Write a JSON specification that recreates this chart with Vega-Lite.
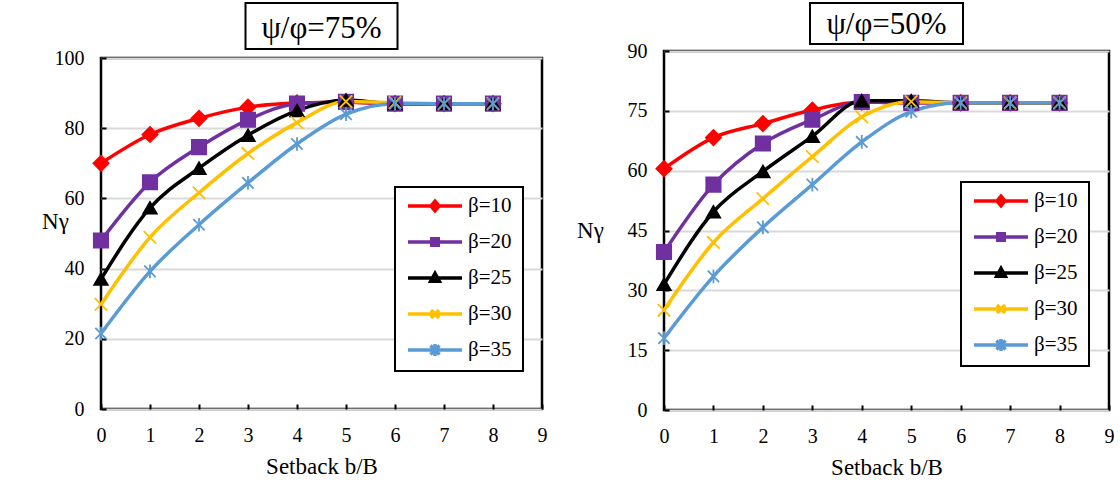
{
  "$schema": "https://vega.github.io/schema/vega-lite/v6.json",
  "padding": {"left": 40, "top": 2, "right": 2, "bottom": 2},
  "background": "white",
  "datasets": {
    "d75": [
      {"x": 0, "ny": 70, "s": "β=10"}, {"x": 1, "ny": 78.2, "s": "β=10"}, {"x": 2, "ny": 82.8, "s": "β=10"}, {"x": 3, "ny": 86, "s": "β=10"}, {"x": 4, "ny": 87.2, "s": "β=10"}, {"x": 5, "ny": 87.4, "s": "β=10"}, {"x": 6, "ny": 87, "s": "β=10"}, {"x": 7, "ny": 87, "s": "β=10"}, {"x": 8, "ny": 87, "s": "β=10"},
      {"x": 0, "ny": 48, "s": "β=20"}, {"x": 1, "ny": 64.6, "s": "β=20"}, {"x": 2, "ny": 74.6, "s": "β=20"}, {"x": 3, "ny": 82.4, "s": "β=20"}, {"x": 4, "ny": 87, "s": "β=20"}, {"x": 5, "ny": 87.5, "s": "β=20"}, {"x": 6, "ny": 87, "s": "β=20"}, {"x": 7, "ny": 87, "s": "β=20"}, {"x": 8, "ny": 87, "s": "β=20"},
      {"x": 0, "ny": 37, "s": "β=25"}, {"x": 1, "ny": 57.3, "s": "β=25"}, {"x": 2, "ny": 68.6, "s": "β=25"}, {"x": 3, "ny": 78, "s": "β=25"}, {"x": 4, "ny": 85, "s": "β=25"}, {"x": 5, "ny": 88, "s": "β=25"}, {"x": 6, "ny": 87, "s": "β=25"}, {"x": 7, "ny": 87, "s": "β=25"}, {"x": 8, "ny": 87, "s": "β=25"},
      {"x": 0, "ny": 29.8, "s": "β=30"}, {"x": 1, "ny": 48.9, "s": "β=30"}, {"x": 2, "ny": 61.6, "s": "β=30"}, {"x": 3, "ny": 72.8, "s": "β=30"}, {"x": 4, "ny": 81.6, "s": "β=30"}, {"x": 5, "ny": 87.6, "s": "β=30"}, {"x": 6, "ny": 87.3, "s": "β=30"}, {"x": 7, "ny": 87, "s": "β=30"}, {"x": 8, "ny": 87, "s": "β=30"},
      {"x": 0, "ny": 21.5, "s": "β=35"}, {"x": 1, "ny": 39.2, "s": "β=35"}, {"x": 2, "ny": 52.5, "s": "β=35"}, {"x": 3, "ny": 64.4, "s": "β=35"}, {"x": 4, "ny": 75.5, "s": "β=35"}, {"x": 5, "ny": 84, "s": "β=35"}, {"x": 6, "ny": 87, "s": "β=35"}, {"x": 7, "ny": 87, "s": "β=35"}, {"x": 8, "ny": 87, "s": "β=35"}
    ],
    "d50": [
      {"x": 0, "ny": 60.5, "s": "β=10"}, {"x": 1, "ny": 68.3, "s": "β=10"}, {"x": 2, "ny": 71.8, "s": "β=10"}, {"x": 3, "ny": 75.2, "s": "β=10"}, {"x": 4, "ny": 77.2, "s": "β=10"}, {"x": 5, "ny": 77, "s": "β=10"}, {"x": 6, "ny": 77, "s": "β=10"}, {"x": 7, "ny": 77, "s": "β=10"}, {"x": 8, "ny": 77, "s": "β=10"},
      {"x": 0, "ny": 39.6, "s": "β=20"}, {"x": 1, "ny": 56.5, "s": "β=20"}, {"x": 2, "ny": 66.8, "s": "β=20"}, {"x": 3, "ny": 72.8, "s": "β=20"}, {"x": 4, "ny": 77.2, "s": "β=20"}, {"x": 5, "ny": 77, "s": "β=20"}, {"x": 6, "ny": 77, "s": "β=20"}, {"x": 7, "ny": 77, "s": "β=20"}, {"x": 8, "ny": 77, "s": "β=20"},
      {"x": 0, "ny": 31.5, "s": "β=25"}, {"x": 1, "ny": 49.7, "s": "β=25"}, {"x": 2, "ny": 59.8, "s": "β=25"}, {"x": 3, "ny": 68.6, "s": "β=25"}, {"x": 4, "ny": 77.5, "s": "β=25"}, {"x": 5, "ny": 77.5, "s": "β=25"}, {"x": 6, "ny": 77, "s": "β=25"}, {"x": 7, "ny": 77, "s": "β=25"}, {"x": 8, "ny": 77, "s": "β=25"},
      {"x": 0, "ny": 25, "s": "β=30"}, {"x": 1, "ny": 42, "s": "β=30"}, {"x": 2, "ny": 53, "s": "β=30"}, {"x": 3, "ny": 63.5, "s": "β=30"}, {"x": 4, "ny": 73.5, "s": "β=30"}, {"x": 5, "ny": 77.3, "s": "β=30"}, {"x": 6, "ny": 77, "s": "β=30"}, {"x": 7, "ny": 77, "s": "β=30"}, {"x": 8, "ny": 77, "s": "β=30"},
      {"x": 0, "ny": 18, "s": "β=35"}, {"x": 1, "ny": 33.5, "s": "β=35"}, {"x": 2, "ny": 45.8, "s": "β=35"}, {"x": 3, "ny": 56.5, "s": "β=35"}, {"x": 4, "ny": 67.2, "s": "β=35"}, {"x": 5, "ny": 74.8, "s": "β=35"}, {"x": 6, "ny": 77, "s": "β=35"}, {"x": 7, "ny": 77, "s": "β=35"}, {"x": 8, "ny": 77, "s": "β=35"}
    ]
  },
  "config": {
    "font": "Liberation Serif, Times New Roman, serif",
    "view": {"stroke": "black", "strokeWidth": 2.5},
    "text": {"font": "Liberation Serif, Times New Roman, serif"},
    "legend": {"labelFont": "Liberation Serif, Times New Roman, serif"},
    "axis": {
      "domain": false,
      "labelFont": "Liberation Serif, Times New Roman, serif", "labelFontSize": 20, "labelColor": "black",
      "tickColor": "black", "tickWidth": 2, "tickSize": -5,
      "titleFont": "Liberation Serif, Times New Roman, serif", "titleFontSize": 23, "titleFontWeight": "normal", "titleColor": "black"
    },
    "axisX": {"labelPadding": 21, "labelFlush": false, "titleBaseline": "middle", "titleY": 57, "grid": false},
    "axisY": {"labelPadding": 22, "grid": true, "gridColor": "#d9d9d9", "gridWidth": 2, "titleAngle": 0, "titleAlign": "center", "titleBaseline": "middle", "titleFontSize": 23}
  },
  "spacing": 26,
  "resolve": {"legend": {"color": "independent"}},
  "hconcat": [
    {
      "bounds": "flush",
      "center": true,
      "spacing": 9,
      "resolve": {"legend": {"color": "independent"}},
      "vconcat": [
        {
          "width": 152, "height": 46,
          "view": {"stroke": "black", "strokeWidth": 2},
          "data": {"values": [{"label": "ψ/φ=75%"}]},
          "mark": {"type": "text", "font": "Liberation Serif, Times New Roman, serif", "fontSize": 31, "color": "black", "dy": 3},
          "encoding": {"text": {"field": "label", "type": "nominal"}}
        },
        {
          "width": 441, "height": 351,
          "view": {"stroke": "black", "strokeWidth": 2.5},
          "data": {"name": "d75"},
          "encoding": {
            "x": {"field": "x", "type": "quantitative", "scale": {"domain": [0, 9], "nice": false}, "axis": {"values": [0,1,2,3,4,5,6,7,8,9], "title": "Setback b/B", "grid": false}},
            "y": {"field": "ny", "type": "quantitative", "scale": {"domain": [0, 100], "nice": false}, "axis": {"values": [0,20,40,60,80,100], "title": "Nγ", "titleX": -46, "titleY": 163}}
          },
          "layer": [
            {
              "mark": {"type": "line", "interpolate": "monotone", "strokeWidth": 3.5},
              "encoding": {
                "color": {
                  "field": "s", "type": "nominal",
                  "scale": {"domain": ["β=10","β=20","β=25","β=30","β=35"], "range": ["#ff0000","#7030a0","#000000","#ffc000","#5b9bd5"]},
                  "legend": {
                    "title": null, "orient": "none", "legendX": 294, "legendY": 129,
                    "fillColor": "white", "strokeColor": "black", "padding": 11, "cornerRadius": 0,
                    "rowPadding": 15, "clipHeight": 16, "labelOffset": 4,
                    "labelFont": "Liberation Serif, Times New Roman, serif", "labelFontSize": 21, "labelColor": "black", "labelLimit": 200,
                    "symbolSize": 2916, "symbolStrokeWidth": 3.5,
                    "encode": {
                      "legend": {"update": {"strokeWidth": {"value": 2}}},
                      "symbols": {
                        "update": {
                          "shape": {"signal": "['M-1,0L1,0M0,-0.18L0.15,0L0,0.18L-0.15,0Z','M-1,0L1,0M-0.12,-0.12L0.12,-0.12L0.12,0.12L-0.12,0.12Z','M-1,0L1,0M0,-0.17L0.16,0.12L-0.16,0.12Z','M-1,0L1,0M-0.15,-0.15L0.15,0.15M-0.15,0.15L0.15,-0.15','M-1,0L1,0M-0.17,-0.17L0.17,0.17M-0.17,0.17L0.17,-0.17M0,-0.22L0,0.22'][indexof(['β=10','β=20','β=25','β=30','β=35'], datum.value)]"},
                          "fill": {"signal": "['#ff0000','#7030a0','#000000','#ffc000','#5b9bd5'][indexof(['β=10','β=20','β=25','β=30','β=35'], datum.value)]"},
                          "stroke": {"signal": "['#ff0000','#7030a0','#000000','#ffc000','#5b9bd5'][indexof(['β=10','β=20','β=25','β=30','β=35'], datum.value)]"},
                          "size": {"value": 2916},
                          "strokeWidth": {"value": 3.5},
                          "opacity": {"value": 1}
                        }
                      }
                    }
                  }
                }
              }
            },
            {
              "mark": {"type": "point", "filled": true, "opacity": 1, "strokeWidth": 1.8},
              "encoding": {
                "color": {"field": "s", "type": "nominal", "scale": {"domain": ["β=10","β=20","β=25","β=30","β=35"], "range": ["#ff0000","#7030a0","#000000","#ffc000","#5b9bd5"]}},
                "stroke": {"field": "s", "type": "nominal", "scale": {"domain": ["β=10","β=20","β=25","β=30","β=35"], "range": ["#ff0000","#7030a0","#000000","#ffc000","#5b9bd5"]}, "legend": null},
                "shape": {"field": "s", "type": "nominal", "scale": {"domain": ["β=10","β=20","β=25","β=30","β=35"], "range": ["diamond","square","triangle-up","M-1,-1L1,1M-1,1L1,-1","M-1,-1L1,1M-1,1L1,-1M0,-1.2L0,1.2"]}, "legend": null},
                "size": {"field": "s", "type": "nominal", "scale": {"domain": ["β=10","β=20","β=25","β=30","β=35"], "range": [230, 130, 180, 220, 220]}, "legend": null}
              }
            }
          ]
        }
      ]
    },
    {
      "bounds": "flush",
      "center": true,
      "spacing": 7,
      "resolve": {"legend": {"color": "independent"}},
      "vconcat": [
        {
          "width": 153, "height": 41,
          "view": {"stroke": "black", "strokeWidth": 2},
          "data": {"values": [{"label": "ψ/φ=50%"}]},
          "mark": {"type": "text", "font": "Liberation Serif, Times New Roman, serif", "fontSize": 31, "color": "black", "dy": 1},
          "encoding": {"text": {"field": "label", "type": "nominal"}}
        },
        {
          "width": 445, "height": 359,
          "view": {"stroke": "black", "strokeWidth": 2.5},
          "data": {"name": "d50"},
          "encoding": {
            "x": {"field": "x", "type": "quantitative", "scale": {"domain": [0, 9], "nice": false}, "axis": {"values": [0,1,2,3,4,5,6,7,8,9], "title": "Setback b/B", "grid": false}},
            "y": {"field": "ny", "type": "quantitative", "scale": {"domain": [0, 90], "nice": false}, "axis": {"values": [0,15,30,45,60,75,90], "title": "Nγ", "titleX": -74, "titleY": 179}}
          },
          "layer": [
            {
              "mark": {"type": "line", "interpolate": "monotone", "strokeWidth": 3.5},
              "encoding": {
                "color": {
                  "field": "s", "type": "nominal",
                  "scale": {"domain": ["β=10","β=20","β=25","β=30","β=35"], "range": ["#ff0000","#7030a0","#000000","#ffc000","#5b9bd5"]},
                  "legend": {
                    "title": null, "orient": "none", "legendX": 297, "legendY": 131,
                    "fillColor": "white", "strokeColor": "black", "padding": 11, "cornerRadius": 0,
                    "rowPadding": 15, "clipHeight": 16, "labelOffset": 4,
                    "labelFont": "Liberation Serif, Times New Roman, serif", "labelFontSize": 21, "labelColor": "black", "labelLimit": 200,
                    "symbolSize": 2916, "symbolStrokeWidth": 3.5,
                    "encode": {
                      "legend": {"update": {"strokeWidth": {"value": 2}}},
                      "symbols": {
                        "update": {
                          "shape": {"signal": "['M-1,0L1,0M0,-0.18L0.15,0L0,0.18L-0.15,0Z','M-1,0L1,0M-0.12,-0.12L0.12,-0.12L0.12,0.12L-0.12,0.12Z','M-1,0L1,0M0,-0.17L0.16,0.12L-0.16,0.12Z','M-1,0L1,0M-0.15,-0.15L0.15,0.15M-0.15,0.15L0.15,-0.15','M-1,0L1,0M-0.17,-0.17L0.17,0.17M-0.17,0.17L0.17,-0.17M0,-0.22L0,0.22'][indexof(['β=10','β=20','β=25','β=30','β=35'], datum.value)]"},
                          "fill": {"signal": "['#ff0000','#7030a0','#000000','#ffc000','#5b9bd5'][indexof(['β=10','β=20','β=25','β=30','β=35'], datum.value)]"},
                          "stroke": {"signal": "['#ff0000','#7030a0','#000000','#ffc000','#5b9bd5'][indexof(['β=10','β=20','β=25','β=30','β=35'], datum.value)]"},
                          "size": {"value": 2916},
                          "strokeWidth": {"value": 3.5},
                          "opacity": {"value": 1}
                        }
                      }
                    }
                  }
                }
              }
            },
            {
              "mark": {"type": "point", "filled": true, "opacity": 1, "strokeWidth": 1.8},
              "encoding": {
                "color": {"field": "s", "type": "nominal", "scale": {"domain": ["β=10","β=20","β=25","β=30","β=35"], "range": ["#ff0000","#7030a0","#000000","#ffc000","#5b9bd5"]}},
                "stroke": {"field": "s", "type": "nominal", "scale": {"domain": ["β=10","β=20","β=25","β=30","β=35"], "range": ["#ff0000","#7030a0","#000000","#ffc000","#5b9bd5"]}, "legend": null},
                "shape": {"field": "s", "type": "nominal", "scale": {"domain": ["β=10","β=20","β=25","β=30","β=35"], "range": ["diamond","square","triangle-up","M-1,-1L1,1M-1,1L1,-1","M-1,-1L1,1M-1,1L1,-1M0,-1.2L0,1.2"]}, "legend": null},
                "size": {"field": "s", "type": "nominal", "scale": {"domain": ["β=10","β=20","β=25","β=30","β=35"], "range": [230, 130, 180, 220, 220]}, "legend": null}
              }
            }
          ]
        }
      ]
    }
  ]
}
